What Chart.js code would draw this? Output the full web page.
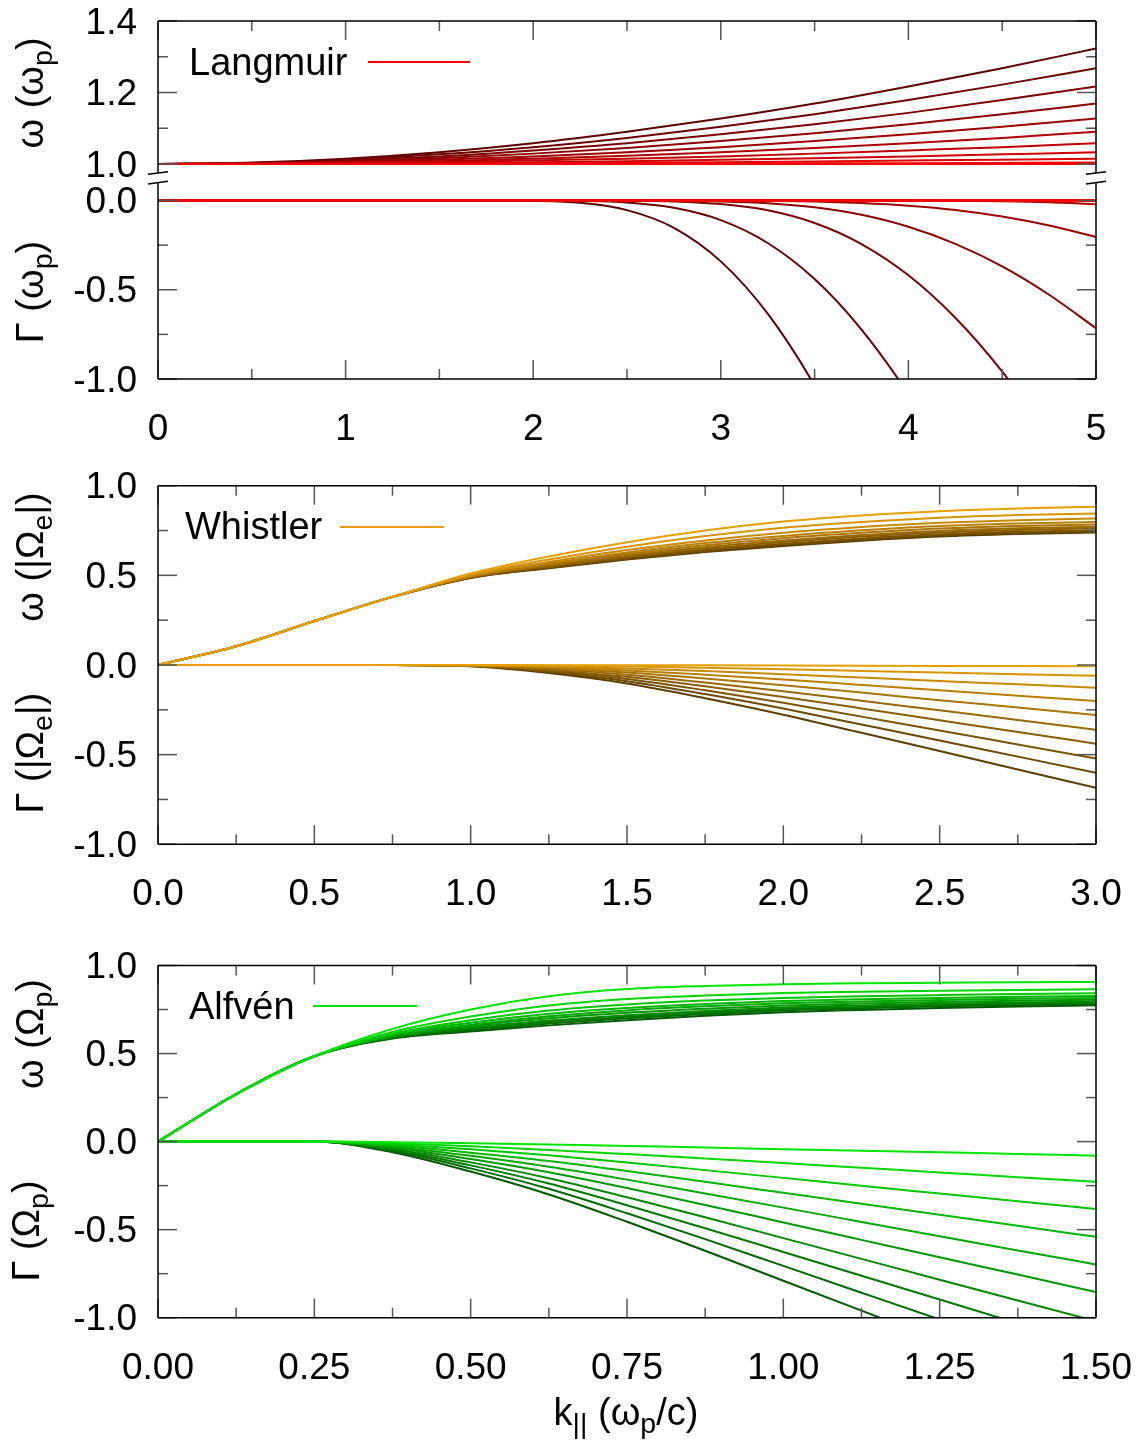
<!DOCTYPE html>
<html>
<head>
<meta charset="utf-8">
<script src="https://cdn.jsdelivr.net/npm/chart.js@4.4.1/dist/chart.umd.min.js"></script>
<style>
html, body { margin: 0; padding: 0; background: #fff; }
body { width: 1144px; height: 1441px; position: relative; overflow: hidden;
       font-family: "Liberation Sans", Arial, sans-serif; color: #000; }
.plot { position: absolute; left: 0; }
.ytitle { position: absolute; font-size: 38px; line-height: 1; white-space: nowrap;
          transform: translate(-50%, -50%) rotate(-90deg); }
.xtitle { position: absolute; font-size: 38px; line-height: 1; white-space: nowrap;
          transform: translateX(-50%); }
.sub { font-size: 0.75em; position: relative; top: 0.3em; }
.key { position: absolute; font-size: 38px; line-height: 1; white-space: nowrap; }
.keyline { position: absolute; height: 2px; }
</style>
</head>
<body>
<canvas id="langW" class="plot" width="1200" height="263" style="top:-40px"></canvas>
<canvas id="langG" class="plot" width="1200" height="339" style="top:130px"></canvas>
<canvas id="whist" class="plot" width="1200" height="505" style="top:430px"></canvas>
<canvas id="alf" class="plot" width="1200" height="500" style="top:910px"></canvas>

<div class="ytitle" style="left:30px; top:93px">ω (ω<span class="sub">p</span>)</div>
<div class="ytitle" style="left:30px; top:292px">Γ (ω<span class="sub">p</span>)</div>
<div class="ytitle" style="left:30px; top:557px">ω (|Ω<span class="sub">e</span>|)</div>
<div class="ytitle" style="left:30px; top:753px">Γ (|Ω<span class="sub">e</span>|)</div>
<div class="ytitle" style="left:30px; top:1034px">ω (Ω<span class="sub">p</span>)</div>
<div class="ytitle" style="left:26px; top:1231px">Γ (Ω<span class="sub">p</span>)</div>
<div class="xtitle" style="left:626px; top:1392.8px">k<span class="sub">||</span> (ω<span class="sub">p</span>/c)</div>

<div class="key" style="left:189px; top:42.8px">Langmuir</div>
<div class="keyline" style="left:368px; top:61px; width:102px; background:rgb(255,0,0)"></div>
<div class="key" style="left:185px; top:507.1px">Whistler</div>
<div class="keyline" style="left:340px; top:526px; width:104px; background:rgb(230,159,0)"></div>
<div class="key" style="left:189px; top:987.1px">Alfvén</div>
<div class="keyline" style="left:313px; top:1005px; width:104px; background:rgb(0,230,0)"></div>

<script>
// wave numbers k|| (omega_p/c) at which the curves are sampled
const langOmegaK = [0, 0.5, 1, 1.5, 2, 2.5, 3, 3.5, 4, 4.5, 5];
const langGammaK = [0, 0.25, 0.5, 0.75, 1, 1.25, 1.5, 1.75, 2, 2.25, 2.5, 2.75, 3,
                    3.25, 3.5, 3.75, 4, 4.25, 4.5, 4.75, 5];
const whistK = [0, 0.25, 0.5, 0.75, 1, 1.25, 1.5, 1.75, 2, 2.25, 2.5, 2.75, 3];
const alfK = [0, 0.125, 0.25, 0.375, 0.5, 0.625, 0.75, 0.875, 1, 1.125, 1.25, 1.375, 1.5];

// Langmuir: real frequency, one row per temperature (cold -> hot)
const langOmega = [
  [1.000, 1.000, 1.000, 1.000, 1.000, 1.000, 1.000, 1.000, 1.000, 1.000, 1.000],
  [1.000, 1.000, 1.000, 1.000, 1.001, 1.001, 1.001, 1.002, 1.002, 1.003, 1.004],
  [1.000, 1.000, 1.001, 1.001, 1.002, 1.004, 1.005, 1.007, 1.010, 1.012, 1.015],
  [1.000, 1.000, 1.001, 1.003, 1.005, 1.008, 1.012, 1.016, 1.021, 1.027, 1.033],
  [1.000, 1.001, 1.002, 1.005, 1.010, 1.015, 1.021, 1.029, 1.038, 1.047, 1.058],
  [1.000, 1.001, 1.004, 1.008, 1.015, 1.023, 1.033, 1.045, 1.058, 1.073, 1.090],
  [1.000, 1.001, 1.005, 1.012, 1.021, 1.033, 1.047, 1.064, 1.083, 1.104, 1.127],
  [1.000, 1.002, 1.007, 1.016, 1.029, 1.045, 1.064, 1.086, 1.111, 1.139, 1.169],
  [1.000, 1.002, 1.010, 1.021, 1.038, 1.058, 1.083, 1.111, 1.143, 1.179, 1.217],
  [1.000, 1.003, 1.012, 1.027, 1.047, 1.073, 1.104, 1.139, 1.179, 1.222, 1.268],
  [1.000, 1.004, 1.015, 1.033, 1.058, 1.090, 1.127, 1.169, 1.217, 1.268, 1.323]
];

// Langmuir: damping rate (rows stop once they leave the axis)
const langGamma = [
  [0, 0, 0, 0, 0, 0, 0, 0, 0, 0, 0, 0, 0, 0, 0, 0, 0, 0, 0, 0, 0],
  [0, 0, 0, 0, 0, 0, 0, 0, 0, 0, 0, 0, 0, 0, 0, 0, 0, 0, 0, 0, 0],
  [0, 0, 0, 0, 0, 0, 0, 0, 0, 0, 0, 0, 0, 0, 0, 0, 0, 0, 0, 0, 0],
  [0, 0, 0, 0, 0, 0, 0, 0, 0, 0, 0, 0, 0, 0, 0, 0, 0, 0, 0, 0, 0],
  [0, 0, 0, 0, 0, 0, 0, 0, 0, 0, 0, 0, 0, 0, 0, 0, 0, 0, 0, 0, 0],
  [0, 0, 0, 0, 0, 0, 0, 0, 0, 0, 0, 0, 0, 0, 0, 0, 0, -0.001, -0.004, -0.010, -0.021],
  [0, 0, 0, 0, 0, 0, 0, 0, 0, 0, 0, 0, 0, -0.002, -0.005, -0.014, -0.029, -0.053, -0.090, -0.140, -0.204],
  [0, 0, 0, 0, 0, 0, 0, 0, 0, 0, 0, -0.001, -0.005, -0.015, -0.038, -0.080, -0.147, -0.243, -0.369, -0.528, -0.716],
  [0, 0, 0, 0, 0, 0, 0, 0, 0, 0, -0.001, -0.005, -0.020, -0.055, -0.126, -0.244, -0.419, -0.657, -0.958, -1.318],
  [0, 0, 0, 0, 0, 0, 0, 0, 0, -0.002, -0.011, -0.041, -0.110, -0.238, -0.440, -0.723, -1.085, -1.520],
  [0, 0, 0, 0, 0, 0, 0, 0, -0.002, -0.013, -0.054, -0.153, -0.341, -0.634, -1.037, -1.540]
];

// Whistler: real frequency and damping, weak -> strong damping
const whistOmega = [
  [0, 0.105, 0.245, 0.380, 0.510, 0.605, 0.685, 0.750, 0.800, 0.834, 0.858, 0.873, 0.882],
  [0, 0.105, 0.245, 0.380, 0.504, 0.588, 0.660, 0.719, 0.765, 0.797, 0.821, 0.836, 0.845],
  [0, 0.105, 0.245, 0.380, 0.499, 0.575, 0.641, 0.695, 0.738, 0.770, 0.793, 0.808, 0.817],
  [0, 0.105, 0.245, 0.380, 0.495, 0.567, 0.628, 0.680, 0.720, 0.751, 0.775, 0.789, 0.798],
  [0, 0.105, 0.245, 0.380, 0.493, 0.560, 0.619, 0.668, 0.707, 0.737, 0.761, 0.775, 0.784],
  [0, 0.105, 0.245, 0.380, 0.491, 0.555, 0.610, 0.657, 0.694, 0.725, 0.748, 0.762, 0.771],
  [0, 0.105, 0.245, 0.380, 0.489, 0.550, 0.604, 0.649, 0.686, 0.716, 0.739, 0.753, 0.762],
  [0, 0.105, 0.245, 0.380, 0.487, 0.546, 0.597, 0.641, 0.676, 0.706, 0.729, 0.743, 0.752],
  [0, 0.105, 0.245, 0.380, 0.486, 0.543, 0.592, 0.635, 0.670, 0.699, 0.722, 0.736, 0.745],
  [0, 0.105, 0.245, 0.380, 0.485, 0.540, 0.588, 0.630, 0.664, 0.693, 0.716, 0.730, 0.739]
];
const whistGamma = [
  [0, 0, 0, 0, 0, -0.001, -0.001, -0.002, -0.003, -0.004, -0.005, -0.006, -0.007],
  [0, 0, 0, 0, -0.001, -0.004, -0.009, -0.016, -0.024, -0.033, -0.042, -0.051, -0.060],
  [0, 0, 0, 0, -0.001, -0.008, -0.019, -0.034, -0.051, -0.070, -0.089, -0.108, -0.127],
  [0, 0, 0, 0, -0.002, -0.013, -0.030, -0.054, -0.081, -0.111, -0.141, -0.171, -0.201],
  [0, 0, 0, 0, -0.003, -0.018, -0.042, -0.075, -0.113, -0.154, -0.196, -0.237, -0.279],
  [0, 0, 0, 0, -0.004, -0.023, -0.054, -0.097, -0.146, -0.199, -0.253, -0.307, -0.361],
  [0, 0, 0, 0, -0.004, -0.029, -0.066, -0.119, -0.178, -0.242, -0.308, -0.374, -0.439],
  [0, 0, 0, 0, -0.005, -0.034, -0.078, -0.141, -0.211, -0.288, -0.365, -0.443, -0.521],
  [0, 0, 0, 0, -0.006, -0.039, -0.090, -0.162, -0.243, -0.332, -0.421, -0.511, -0.601],
  [0, 0, 0, 0, -0.007, -0.045, -0.103, -0.185, -0.277, -0.378, -0.480, -0.583, -0.685]
];

// Alfven: real frequency and damping, weak -> strong damping
const alfOmega = [
  [0, 0.270, 0.485, 0.640, 0.750, 0.825, 0.866, 0.884, 0.894, 0.899, 0.902, 0.905, 0.907],
  [0, 0.270, 0.485, 0.623, 0.710, 0.773, 0.810, 0.830, 0.844, 0.851, 0.857, 0.861, 0.865],
  [0, 0.270, 0.485, 0.613, 0.689, 0.744, 0.779, 0.801, 0.816, 0.825, 0.832, 0.838, 0.842],
  [0, 0.270, 0.485, 0.607, 0.675, 0.726, 0.759, 0.782, 0.798, 0.808, 0.816, 0.822, 0.827],
  [0, 0.270, 0.485, 0.602, 0.664, 0.712, 0.745, 0.768, 0.785, 0.796, 0.804, 0.811, 0.816],
  [0, 0.270, 0.485, 0.598, 0.655, 0.700, 0.732, 0.755, 0.773, 0.784, 0.793, 0.800, 0.806],
  [0, 0.270, 0.485, 0.594, 0.646, 0.687, 0.718, 0.742, 0.761, 0.773, 0.783, 0.790, 0.796],
  [0, 0.270, 0.485, 0.591, 0.639, 0.679, 0.709, 0.733, 0.753, 0.765, 0.775, 0.783, 0.789],
  [0, 0.270, 0.485, 0.588, 0.632, 0.670, 0.700, 0.724, 0.745, 0.757, 0.768, 0.775, 0.782],
  [0, 0.270, 0.485, 0.585, 0.625, 0.660, 0.689, 0.714, 0.735, 0.748, 0.759, 0.767, 0.774]
];
const alfGamma = [
  [0, 0, 0, -0.003, -0.009, -0.016, -0.025, -0.033, -0.043, -0.052, -0.061, -0.070, -0.080],
  [0, 0, 0, -0.009, -0.026, -0.047, -0.071, -0.096, -0.122, -0.149, -0.175, -0.202, -0.228],
  [0, 0, 0, -0.016, -0.044, -0.078, -0.119, -0.162, -0.206, -0.251, -0.295, -0.339, -0.383],
  [0, 0, 0, -0.022, -0.063, -0.110, -0.167, -0.228, -0.291, -0.353, -0.416, -0.478, -0.541],
  [0, 0, 0, -0.029, -0.081, -0.143, -0.216, -0.295, -0.375, -0.456, -0.537, -0.618, -0.698],
  [0, 0, 0, -0.035, -0.099, -0.174, -0.264, -0.360, -0.459, -0.558, -0.657, -0.755, -0.854],
  [0, 0, 0, -0.042, -0.118, -0.208, -0.316, -0.430, -0.548, -0.666, -0.784, -0.902, -1.020],
  [0, 0, 0, -0.048, -0.135, -0.238, -0.361, -0.492, -0.627, -0.762, -0.897, -1.032],
  [0, 0, 0, -0.054, -0.152, -0.268, -0.407, -0.554, -0.706, -0.858, -1.010],
  [0, 0, 0, -0.060, -0.170, -0.300, -0.455, -0.620, -0.790, -0.960, -1.130]
];

// labelled ticks
const langOmegaTicks = [1.0, 1.2, 1.4];
const langGammaTicks = [-1.0, -0.5, 0.0];
const langKTicks = [0, 1, 2, 3, 4, 5];
const unitTicks = [-1.0, -0.5, 0.0, 0.5, 1.0];
const whistKTicks = [0, 0.5, 1, 1.5, 2, 2.5, 3];
const alfKTicks = [0, 0.25, 0.5, 0.75, 1, 1.25, 1.5];

const FONT = '"Liberation Sans", Arial, sans-serif';
const RED = [255, 0, 0], RED_DARK = [92, 0, 0];
const ORANGE = [230, 159, 0], ORANGE_DARK = [92, 62, 0];
const GREEN = [0, 230, 0], GREEN_DARK = [0, 90, 0];

function mix(a, b, t) {
  return 'rgb(' + a.map((c, i) => Math.round(c + (b[i] - c) * t)).join(',') + ')';
}

function curves(k, rows, bright, dark) {
  return rows.map((row, i) => ({
    data: row.map((v, j) => ({ x: k[j], y: v })),
    borderColor: mix(bright, dark, i / (rows.length - 1)),
    borderWidth: 2,
    pointRadius: 0,
    fill: false,
    cubicInterpolationMode: 'monotone'
  }));
}

// gnuplot-like box: inward ticks mirrored on both sides, optional axis break
const frame = {
  id: 'frame',
  afterDatasetsDraw(chart, args, o) {
    const { ctx, chartArea: a, scales: { x, y } } = chart;
    const line = (x0, y0, x1, y1) => { ctx.beginPath(); ctx.moveTo(x0, y0); ctx.lineTo(x1, y1); ctx.stroke(); };
    ctx.save();
    ctx.strokeStyle = '#555';
    ctx.lineWidth = 1.5;
    [[o.yMajor, 19], [o.yMinor, 10]].forEach(([vals, len]) => vals.forEach(v => {
      const py = y.getPixelForValue(v);
      line(a.left, py, a.left + len, py);
      line(a.right, py, a.right - len, py);
    }));
    [[o.xMajor, 19], [o.xMinor, 10]].forEach(([vals, len]) => vals.forEach(v => {
      const px = x.getPixelForValue(v);
      if (o.top) line(px, a.top, px, a.top + len);
      if (o.bottom) line(px, a.bottom, px, a.bottom - len);
    }));
    ctx.strokeStyle = '#000';
    line(a.left, a.top, a.left, a.bottom);
    line(a.right, a.top, a.right, a.bottom);
    if (o.top) line(a.left, a.top, a.right, a.top);
    if (o.bottom) line(a.left, a.bottom, a.right, a.bottom);
    if (o.brk) {
      const yb = o.brk === 'top' ? a.top : a.bottom;
      [a.left, a.right].forEach(xb => line(xb - 10, yb + 1.3, xb + 10, yb - 1.3));
    }
    ctx.restore();
  }
};

function yScale(min, max, labels) {
  return {
    type: 'linear', min, max,
    afterFit(s) { s.width = 158; },
    afterBuildTicks(s) { s.ticks = labels.map(v => ({ value: v })); },
    grid: { display: false, drawTicks: false },
    border: { display: false },
    ticks: { padding: 21, labelOffset: 2.5, color: '#000', font: { family: FONT, size: 37 },
             callback: v => v.toFixed(1) }
  };
}

function xScale(min, max, labels, digits, height) {
  return {
    type: 'linear', min, max, display: height > 0,
    afterFit(s) { s.height = height; },
    afterBuildTicks(s) { s.ticks = labels.map(v => ({ value: v })); },
    grid: { display: false, drawTicks: true, tickLength: 28.5 },
    border: { display: false },
    ticks: { padding: 0, color: '#000', autoSkip: false, maxRotation: 0,
             font: { family: FONT, size: 37 }, callback: v => v.toFixed(digits) }
  };
}

function range(a, b, step) {
  const out = [];
  for (let v = a; v <= b + 1e-9; v += step) out.push(+v.toFixed(4));
  return out;
}

function panel(id, datasets, x, y, padding, frameOpts) {
  return new Chart(document.getElementById(id), {
    type: 'line',
    data: { datasets },
    options: {
      responsive: false,
      animation: false,
      events: [],
      layout: { padding },
      scales: { x, y },
      plugins: { legend: { display: false }, tooltip: { enabled: false }, frame: frameOpts }
    },
    plugins: [frame]
  });
}

// Langmuir, frequency part (above the axis break)
panel('langW',
  curves(langOmegaK, langOmega, RED, RED_DARK),
  xScale(0, 5, langKTicks, 0, 0),
  yScale(0.9748, 1.4, langOmegaTicks),
  { top: 61, bottom: 50, left: 0, right: 104 },
  { yMajor: langOmegaTicks, yMinor: [1.1, 1.3], xMajor: langKTicks, xMinor: range(0.5, 4.5, 1),
    top: true, bottom: false, brk: 'bottom' });

// Langmuir, damping part (below the axis break)
panel('langG',
  curves(langGammaK, langGamma, RED, RED_DARK),
  xScale(0, 5, langKTicks, 0, 90),
  yScale(-1, 0.1, langGammaTicks),
  { top: 52.65, bottom: 0, left: 0, right: 104 },
  { yMajor: langGammaTicks, yMinor: [-0.25, -0.75], xMajor: langKTicks, xMinor: range(0.5, 4.5, 1),
    top: false, bottom: true, brk: 'top' });

// Whistler
panel('whist',
  curves(whistK, whistOmega, ORANGE, ORANGE_DARK).concat(curves(whistK, whistGamma, ORANGE, ORANGE_DARK)),
  xScale(0, 3, whistKTicks, 1, 90.7),
  yScale(-1, 1, unitTicks),
  { top: 55.7, bottom: 0, left: 0, right: 104 },
  { yMajor: unitTicks, yMinor: [-0.75, -0.25, 0.25, 0.75], xMajor: whistKTicks, xMinor: range(0.25, 2.75, 0.5),
    top: true, bottom: true });

// Alfven
panel('alf',
  curves(alfK, alfOmega, GREEN, GREEN_DARK).concat(curves(alfK, alfGamma, GREEN, GREEN_DARK)),
  xScale(0, 1.5, alfKTicks, 2, 92.3),
  yScale(-1, 1, unitTicks),
  { top: 55.5, bottom: 0, left: 0, right: 104 },
  { yMajor: unitTicks, yMinor: [-0.75, -0.25, 0.25, 0.75], xMajor: alfKTicks, xMinor: range(0.125, 1.375, 0.25),
    top: true, bottom: true });
</script>
</body>
</html>
